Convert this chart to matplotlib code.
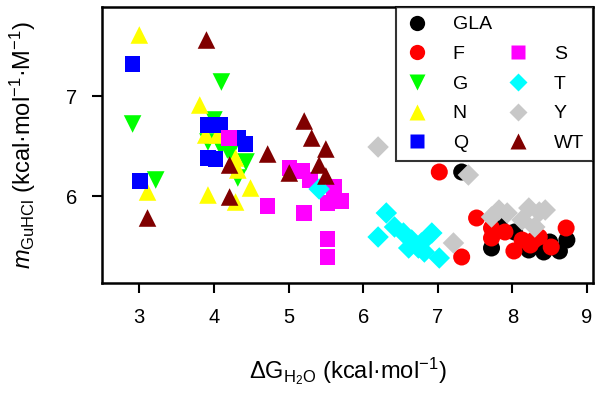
import matplotlib
matplotlib.use("Agg")
import matplotlib.pyplot as plt
from matplotlib.lines import Line2D

plt.rcParams['font.family'] = ['Liberation Sans', 'DejaVu Sans']
plt.rcParams['mathtext.fontset'] = 'custom'
plt.rcParams['mathtext.rm'] = 'Liberation Sans'
plt.rcParams['mathtext.it'] = 'Liberation Sans:italic'
plt.rcParams['mathtext.bf'] = 'Liberation Sans:bold'

# ---- data (ΔG_H2O, m_GuHCl) ----
gla_x = [7.32, 7.72, 7.82, 8.03, 8.22, 8.42, 8.50, 8.63, 8.73]
gla_y = [6.24, 5.48, 5.73, 5.64, 5.46, 5.44, 5.54, 5.45, 5.56]

f_x = [7.02, 7.32, 7.52, 7.72, 7.72, 7.90, 8.02, 8.13, 8.24, 8.29, 8.36, 8.52, 8.72]
f_y = [6.24, 5.39, 5.78, 5.68, 5.58, 5.64, 5.45, 5.56, 5.51, 5.56, 5.59, 5.49, 5.68]

g_x = [2.91, 3.22, 4.10, 4.00, 3.92, 4.09, 4.18, 4.22, 4.43, 4.32]
g_y = [6.72, 6.16, 7.14, 6.76, 6.54, 6.49, 6.46, 6.43, 6.34, 6.18]

n_x = [3.00, 3.81, 3.89, 4.05, 4.29, 4.32, 4.49, 3.92, 4.29, 3.11]
n_y = [7.61, 6.91, 6.61, 6.61, 6.38, 6.26, 6.08, 6.01, 5.94, 6.04]

q_x = [2.91, 3.01, 3.92, 4.08, 4.32, 4.42, 3.92, 4.02]
q_y = [7.32, 6.15, 6.71, 6.71, 6.58, 6.52, 6.38, 6.37]

s_x = [4.20, 5.01, 5.19, 5.29, 5.61, 5.52, 5.71, 5.21, 5.52, 5.52, 4.72]
s_y = [6.58, 6.28, 6.25, 6.16, 6.09, 5.93, 5.95, 5.83, 5.57, 5.39, 5.90]

t_x = [5.41, 6.31, 6.20, 6.42, 6.54, 6.65, 6.61, 6.78, 6.92, 6.82, 7.02, 6.74]
t_y = [6.07, 5.83, 5.59, 5.69, 5.63, 5.56, 5.48, 5.53, 5.63, 5.44, 5.38, 5.48]

y_x = [6.20, 7.41, 7.21, 7.82, 7.93, 7.72, 8.22, 8.36, 8.13, 8.30, 8.44]
y_y = [6.49, 6.21, 5.53, 5.86, 5.83, 5.79, 5.88, 5.84, 5.76, 5.69, 5.86]

wt_x = [3.11, 3.90, 4.21, 4.72, 4.21, 5.21, 5.31, 5.50, 5.41, 5.01, 5.50]
wt_y = [5.78, 7.56, 6.31, 6.42, 5.99, 6.75, 6.58, 6.47, 6.31, 6.23, 6.20]

series = [
    ("GLA", gla_x, gla_y, "o", "#000000", 150),
    ("F", f_x, f_y, "o", "#FF0000", 150),
    ("G", g_x, g_y, "v", "#00FF00", 160),
    ("N", n_x, n_y, "^", "#FFFF00", 160),
    ("Q", q_x, q_y, "s", "#0000FF", 125),
    ("S", s_x, s_y, "s", "#FF00FF", 125),
    ("T", t_x, t_y, "D", "#00FFFF", 120),
    ("Y", y_x, y_y, "D", "#C8C8C8", 120),
    ("WT", wt_x, wt_y, "^", "#800000", 160),
]

fig = plt.figure(figsize=(6.02, 4.01), dpi=100)
ax = fig.add_axes([102/602, 1-283/401, (593-102)/602, (283-7)/401])

handles = {}
for name, xs, ys, mk, col, s in series:
    ax.scatter(xs, ys, marker=mk, s=s, c=col, edgecolors='none', zorder=3)
    ms = {"o": 11, "^": 11, "v": 11, "s": 10, "D": 9.5}[mk]
    handles[name] = Line2D([], [], linestyle='none', marker=mk, markersize=ms,
                           markerfacecolor=col, markeredgecolor='none', label=name)

blank = Line2D([], [], linestyle='none', marker=None, label=' ')
order = [handles["GLA"], handles["F"], handles["G"], handles["N"], handles["Q"],
         blank, handles["S"], handles["T"], handles["Y"], handles["WT"]]
leg = ax.legend(handles=order, ncol=2, loc='upper right', bbox_to_anchor=(1.0, 1.0),
                borderaxespad=0, fontsize=14, frameon=True, fancybox=False,
                edgecolor='black', handletextpad=1.25, columnspacing=0.75,
                labelspacing=0.62, borderpad=0.45, handlelength=1.2)
leg.get_frame().set_linewidth(1.5)
leg.set_zorder(5)

ax.set_xlim(2.50, 9.08)
ax.set_ylim(5.13, 7.89)
ax.set_xticks([3, 4, 5, 6, 7, 8, 9])
ax.set_yticks([6, 7])
ax.tick_params(direction='out', length=7, width=1.5, labelsize=14.5, pad=11)
for sp in ax.spines.values():
    sp.set_linewidth(1.8)

ax.set_xlabel(r'$\Delta$G$_{\mathrm{H_2O}}$ (kcal·mol$^{-1}$)', fontsize=17, labelpad=20)
ax.set_ylabel(r'$m_{\mathrm{GuHCl}}$ (kcal·mol$^{-1}$·M$^{-1}$)', fontsize=17, labelpad=20)

fig.savefig("out.png", dpi=100)
